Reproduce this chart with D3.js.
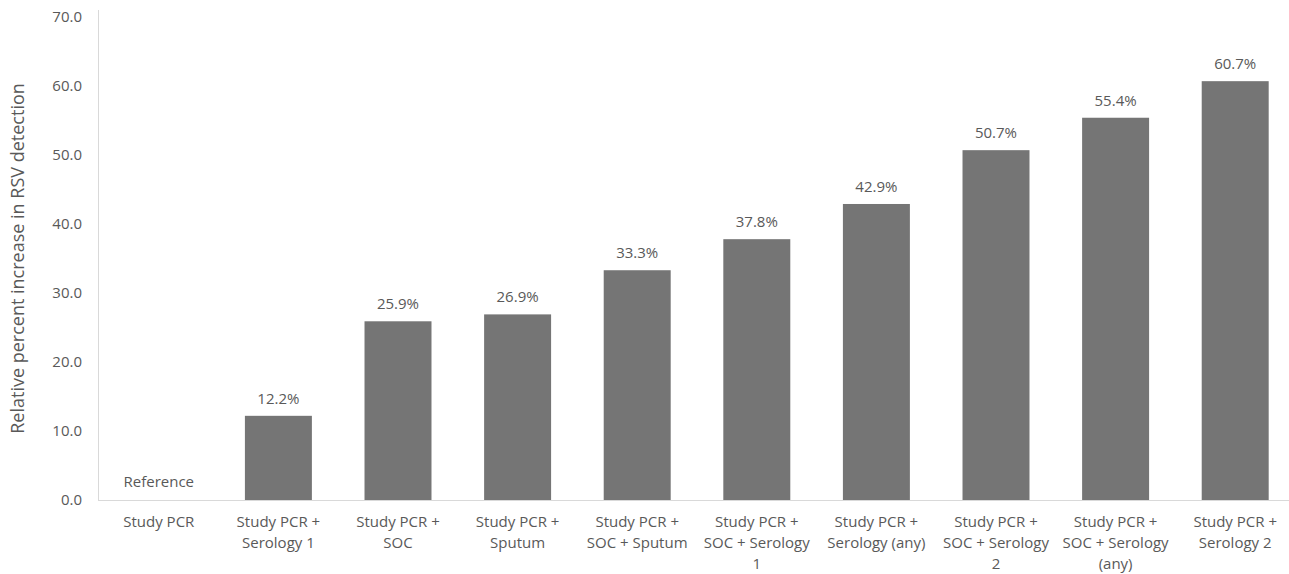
<!DOCTYPE html>
<html>
<head>
<meta charset="utf-8">
<script src="https://cdn.jsdelivr.net/npm/d3@7"></script>
<style>
  body { margin: 0; background: #fff; }
  svg text { font-family: "Open Sans", "Noto Sans", sans-serif; fill: #595959; }
</style>
</head>
<body>
<div class="chart"></div>
<script>
var width = 1289,
    height = 574;

// data
var categories = [
  ["Study PCR"],
  ["Study PCR +", "Serology 1"],
  ["Study PCR +", "SOC"],
  ["Study PCR +", "Sputum"],
  ["Study PCR +", "SOC + Sputum"],
  ["Study PCR +", "SOC + Serology", "1"],
  ["Study PCR +", "Serology (any)"],
  ["Study PCR +", "SOC + Serology", "2"],
  ["Study PCR +", "SOC + Serology", "(any)"],
  ["Study PCR +", "Serology 2"]
];
var values = [0, 12.2, 25.9, 26.9, 33.3, 37.8, 42.9, 50.7, 55.4, 60.7];
var yTicks = [0, 10, 20, 30, 40, 50, 60, 70];

var x = d3.scaleBand()
    .domain(d3.range(categories.length))
    .range([99, 1295])
    .paddingInner(0.44)
    .paddingOuter(0.22);

var y = d3.scaleLinear()
    .domain([0, 70])
    .range([500, 17]);

var svg = d3.select(".chart").append("svg")
    .attr("width", width)
    .attr("height", height);

// y axis line
svg.append("line")
    .attr("x1", 98.5).attr("x2", 98.5)
    .attr("y1", 10).attr("y2", 500)
    .style("stroke", "#d9d9d9")
    .style("stroke-width", 1);

// baseline
svg.append("line")
    .attr("x1", 98).attr("x2", 1289)
    .attr("y1", y(0) + 0.5).attr("y2", y(0) + 0.5)
    .style("stroke", "#d9d9d9")
    .style("stroke-width", 1);

// y tick labels
svg.selectAll(".ytick")
  .data(yTicks)
  .enter()
  .append("text")
    .attr("class", "ytick")
    .attr("x", 82)
    .attr("y", function(d) { return y(d); })
    .attr("dy", "0.35em")
    .style("text-anchor", "end")
    .style("font-size", "15px")
    .text(d3.format(".1f"));

// y title
svg.append("text")
    .attr("transform", "translate(24," + y(35) + ") rotate(-90)")
    .style("text-anchor", "middle")
    .style("font-size", "18px")
    .text("Relative percent increase in RSV detection");

// bars
svg.selectAll(".bar")
  .data(values)
  .enter()
  .append("rect")
    .attr("class", "bar")
    .attr("x", function(d, i) { return x(i); })
    .attr("width", x.bandwidth())
    .attr("y", function(d) { return y(d); })
    .attr("height", function(d) { return y(0) - y(d); })
    .style("fill", "#757575");

// value labels
svg.selectAll(".val")
  .data(values)
  .enter()
  .append("text")
    .attr("class", "val")
    .attr("x", function(d, i) { return x(i) + x.bandwidth() / 2; })
    .attr("y", function(d) { return y(d) - 12; })
    .style("text-anchor", "middle")
    .style("font-size", "15px")
    .text(function(d) { return d === 0 ? "" : d3.format(".1f")(d) + "%"; });

// reference label
svg.append("text")
    .attr("x", x(0) + x.bandwidth() / 2)
    .attr("y", y(0) - 13)
    .style("text-anchor", "middle")
    .style("font-size", "15px")
    .text("Reference");

// category labels
var cat = svg.selectAll(".cat")
  .data(categories)
  .enter()
  .append("text")
    .attr("class", "cat")
    .attr("x", function(d, i) { return x(i) + x.bandwidth() / 2; })
    .attr("y", 527)
    .style("text-anchor", "middle")
    .style("font-size", "15px");

cat.selectAll("tspan")
  .data(function(d) { return d; })
  .enter()
  .append("tspan")
    .attr("x", function() { return d3.select(this.parentNode).attr("x"); })
    .attr("dy", function(d, j) { return j === 0 ? 0 : 21; })
    .text(function(d) { return d; });
</script>
</body>
</html>
